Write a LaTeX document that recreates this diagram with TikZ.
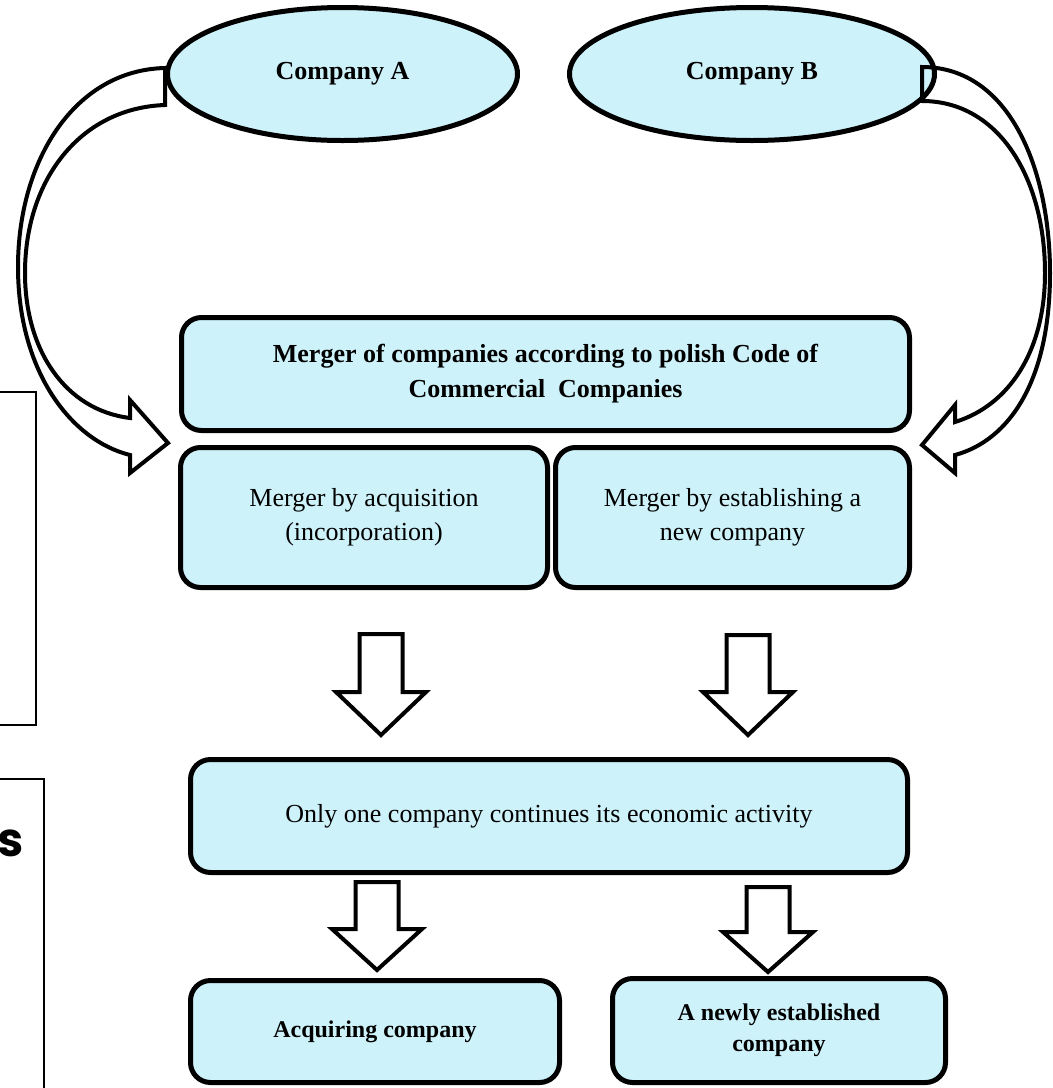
\documentclass[tikz,border=0pt]{standalone}
\usepackage{fontspec}
\setmainfont{Liberation Serif}
\newfontfamily\poppins{Poppins}
\usepackage{tikz}
\usetikzlibrary{shapes.geometric}
\usetikzlibrary{positioning}

\definecolor{boxblue}{RGB}{205,242,250}

\tikzset{
  company/.style={ellipse, draw=black, line width=5pt, fill=boxblue, inner sep=0pt,
    font=\fontsize{26}{31}\selectfont\bfseries},
  stage/.style={rectangle, rounded corners=20pt, draw=black, line width=5pt, fill=boxblue,
    align=center, inner sep=0pt, font=\fontsize{26}{34}\selectfont},
  hollow/.style={draw=black, line width=4pt, line join=miter},
  sidebox/.style={draw=black, line width=1.5pt}
}

\begin{document}
\begin{tikzpicture}[x=1pt, y=-1pt]
\useasboundingbox (0,0) rectangle (1053,1088);

% the two companies
\node[company, minimum width=350pt, minimum height=133pt] (compA) at (342.5,74) {Company A};
\node[company, minimum width=365pt, minimum height=133pt] (compB) at (752,74) {Company B};

% merger boxes
\node[stage, minimum width=728pt, minimum height=113pt, font=\fontsize{26}{35}\selectfont\bfseries] (merger) at (545.5,374)
  {Merger of companies according to polish Code of\\Commercial\ \ Companies};
\node[stage, minimum width=367pt, minimum height=140pt] (acq) at (364,517.5)
  {Merger by acquisition\\(incorporation)};
\node[stage, minimum width=354pt, minimum height=140pt] (est) at (732.5,517.5)
  {Merger by establishing a\\new company};

\node[stage, minimum width=717pt, minimum height=113pt] (onlyone) at (549,816)
  {Only one company continues its economic activity};

\node[stage, minimum width=369pt, minimum height=102pt, font=\fontsize{24}{31}\selectfont\bfseries] (acquiring) at (375,1031.5)
  {\raisebox{-5pt}{Acquiring company}};
\node[stage, minimum width=333pt, minimum height=104pt, font=\fontsize{24}{31}\selectfont\bfseries] (newco) at (779,1030.5)
  {A newly established\\company};

% curved arrows from the companies
\draw[hollow] (165,68) .. controls (75,70) and (18,160) .. (18,267)
  .. controls (18,370) and (70,440) .. (130,455)
  -- (130,473) -- (168,443) -- (130,400) -- (130,418)
  .. controls (65,410) and (25,350) .. (25,273)
  .. controls (25,180) and (80,108) .. (165,105) -- cycle;

\draw[hollow] (922,67) .. controls (1010,67) and (1050,170) .. (1050,273)
  .. controls (1050,380) and (1010,440) .. (955,455)
  -- (955,473) -- (922,445) -- (955,405) -- (955,422)
  .. controls (1010,405) and (1045,350) .. (1045,273)
  .. controls (1045,180) and (1000,101) .. (922,101) -- cycle;

% block arrows down
\foreach \x/\ytop/\ybarb/\ytip in {381/634/692/735, 748/635/692/735, 377/882/929/970, 768/887/932/972}
  \draw[hollow] (\x-21.5,\ytop) -- (\x+21.5,\ytop) -- (\x+21.5,\ybarb) -- (\x+45,\ybarb)
    -- (\x,\ytip) -- (\x-45,\ybarb) -- (\x-21.5,\ybarb) -- cycle;

% cut-off boxes on the left
\draw[sidebox] (-20,392) -- (36,392) -- (36,725) -- (-20,725);
\draw[sidebox] (-20,779) -- (44,779) -- (44,1110);
\node[anchor=base east, inner sep=0pt, font=\fontsize{47}{50}\selectfont\poppins\bfseries] (sidetext) at (24,856) {s};

\end{tikzpicture}
\end{document}
